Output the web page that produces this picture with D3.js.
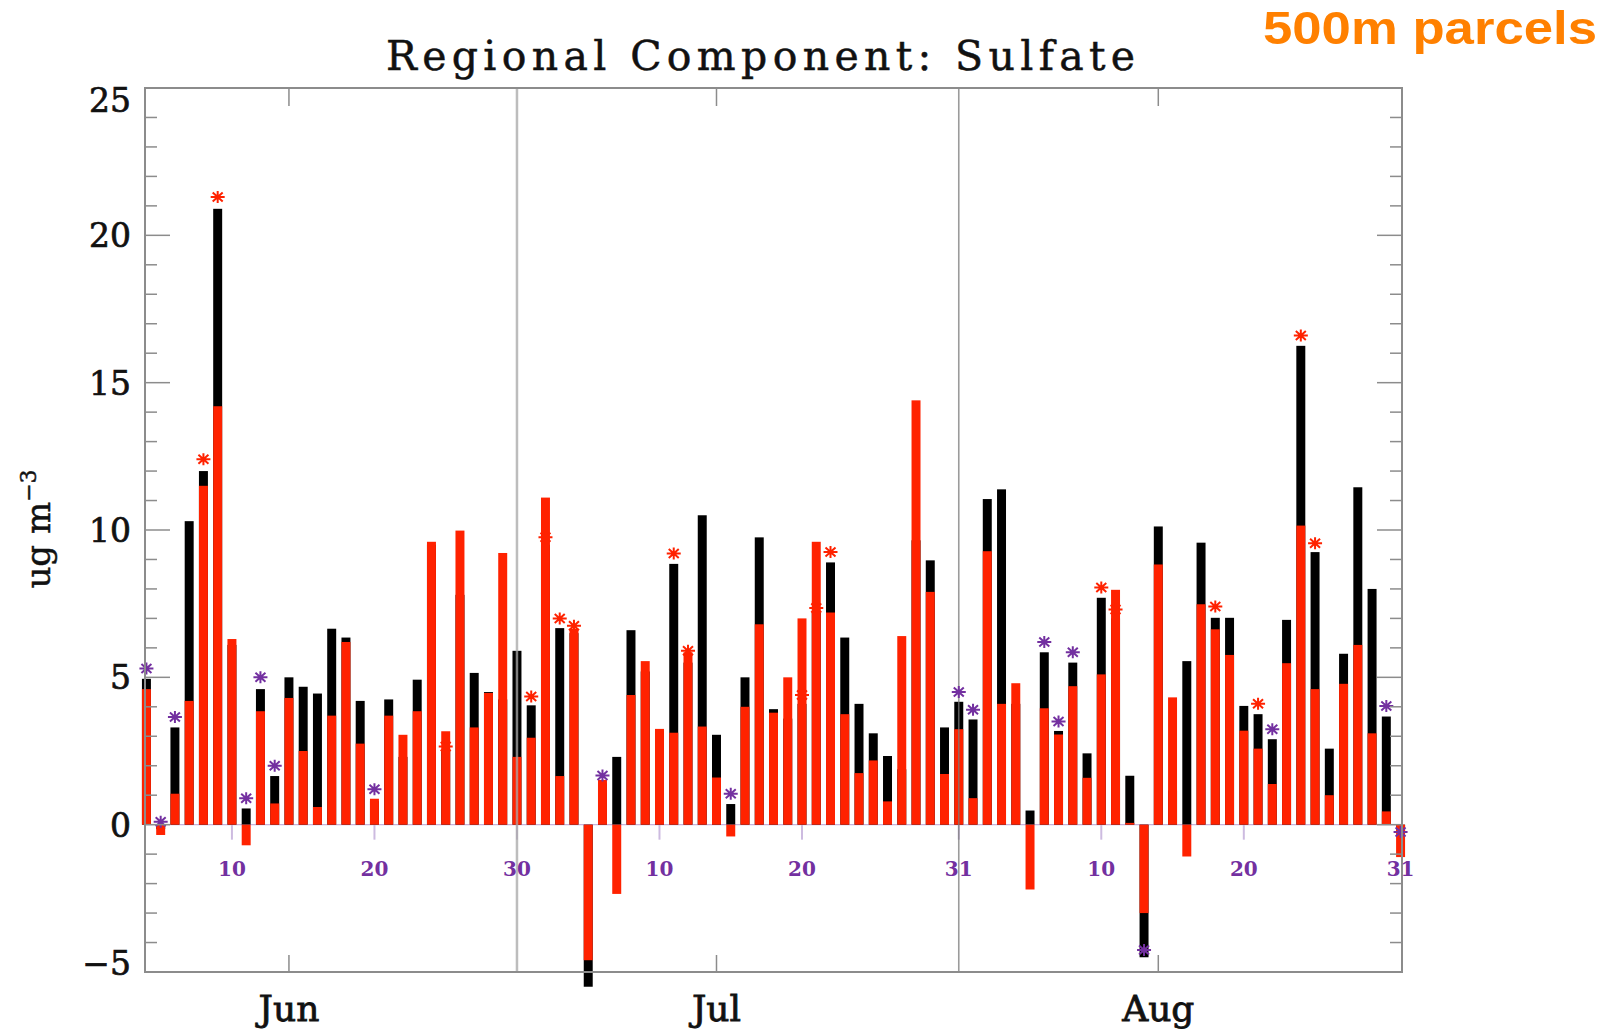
<!DOCTYPE html>
<html>
<head>
<meta charset="utf-8">
<script src="https://cdn.jsdelivr.net/npm/d3@7"></script>
<style>
  body { margin: 0; background: #fff; }
  svg { display: block; }
</style>
</head>
<body>
<script>
/***********************************************************************************/
// Data (day index: Jun 1 = 1, Jul 1 = 31, Aug 1 = 62)

var days = d3.range(4, 93);

var blackVals = [
  4.95, -0.15, 3.3, 10.3, 12.0, 20.9, 6.1, 0.55, 4.6, 1.65,
  5.0, 4.68, 4.45, 6.65, 6.35, 4.2, 0.8, 4.25, 2.3, 4.92,
  9.5, 2.5, 7.8, 5.15, 4.5, 4.25, 5.9, 4.05, 9.5, 6.67,
  6.5, -5.5, 1.4, 2.3, 6.6, 5.2, 3.2, 8.85, 5.5, 10.5,
  3.05, 0.7, 5.0, 9.75, 3.92, 3.6, 4.1, 7.2, 8.9, 6.35,
  4.1, 3.1, 2.33, 1.88, 9.65, 8.97, 3.3, 4.17, 3.57, 11.05,
  11.38, 4.1, 0.48, 5.85, 3.18, 5.5, 2.42, 7.7, 7.0, 1.66,
  -4.5, 10.12, 1.16, 5.55, 9.57, 7.02, 7.02, 4.03, 3.75, 2.9,
  6.95, 16.25, 9.25, 2.58, 5.8, 11.45, 8.0, 3.67, -0.2
];

var redVals = [
  4.6, -0.35, 1.05, 4.2, 11.5, 14.2, 6.3, -0.7, 3.85, 0.72,
  4.3, 2.5, 0.6, 3.7, 6.2, 2.75, 0.88, 3.7, 3.05, 3.85,
  9.6, 3.17, 9.98, 3.3, 4.47, 9.22, 2.3, 2.95, 11.1, 1.65,
  6.65, -4.6, 1.52, -2.35, 4.4, 5.55, 3.25, 3.12, 5.85, 3.33,
  1.6, -0.4, 4.0, 6.8, 3.8, 5.0, 7.0, 9.6, 7.2, 3.75,
  1.75, 2.18, 0.79, 6.4, 14.4, 7.9, 1.72, 3.24, 0.9, 9.28,
  4.1, 4.8, -2.2, 3.95, 3.06, 4.7, 1.59, 5.1, 7.97, 0.06,
  -3.0, 8.83, 4.32, -1.08, 7.48, 6.63, 5.76, 3.19, 2.58, 1.38,
  5.48, 10.15, 4.6, 1.0, 4.78, 6.1, 3.1, 0.45, -1.1
];

// asterisk markers: value and colour ('p' purple, 'r' red)
var starDays  = [4, 5, 6, 8, 9, 11, 12, 13, 20, 25, 31, 32, 33, 34, 36, 41, 42, 45, 50, 51,
                 52, 61, 62, 67, 68, 69, 71, 72, 74, 79, 82, 83, 85, 86, 91, 92];
var starVals  = [5.3, 0.1, 3.65, 12.4, 21.3, 0.9, 5.0, 2.0, 1.2, 2.65, 4.35, 9.75, 7.0, 6.75, 1.67, 9.2, 5.9, 1.05, 4.4, 7.35,
                 9.25, 4.5, 3.9, 6.2, 3.5, 5.85, 8.05, 7.3, -4.25, 7.4, 4.1, 3.24, 16.6, 9.55, 4.03, -0.25];
var starKinds = ['p','p','p','r','r','p','p','p','p','r','r','r','r','r','p','r','r','p','r','r',
                 'r','p','p','p','p','p','r','r','p','r','r','p','r','r','p','p'];

var yTicks = [-5, 0, 5, 10, 15, 20, 25];
var yTickLabels = ['\u22125', '0', '5', '10', '15', '20', '25'];
var dayTicks = [10, 20, 30, 40, 50, 61, 71, 81, 92];
var dayLabels = ['10', '20', '30', '10', '20', '31', '10', '20', '31'];
var monthTicks = [14, 44, 75];
var monthLabels = ['Jun', 'Jul', 'Aug'];
var monthLines = [30, 61];

/***********************************************************************************/
// Setup

var W = 1610, H = 1031;
var RED = '#ff2200', PURPLE = '#7330a0', FRAME = '#8c8c8c';

var svg = d3.select('body').append('svg').attr('width', W).attr('height', H);

var x = d3.scaleLinear().domain([3.9, 92.1]).range([145, 1402]);
var y = d3.scaleLinear().domain([-5, 25]).range([972, 88]);
var halfBar = 0.315;

/***********************************************************************************/
// Zero line and small day ticks

svg.append('line')
  .attr('x1', x.range()[0]).attr('x2', x.range()[1])
  .attr('y1', y(0)).attr('y2', y(0))
  .attr('stroke', '#c7b3dc').attr('stroke-width', 1.2);

svg.selectAll('.dtick').data(dayTicks).enter().append('line')
  .attr('x1', d => x(d)).attr('x2', d => x(d))
  .attr('y1', y(0)).attr('y2', y(0) + 15)
  .attr('stroke', '#cdbbe0').attr('stroke-width', 2);

/***********************************************************************************/
// Bars

function barRect(sel, vals, colour){
  sel.selectAll(null).data(days).enter().append('rect')
    .attr('x', (d) => x(d - halfBar))
    .attr('width', (d) => x(d + halfBar) - x(d - halfBar))
    .attr('y', (d, i) => Math.min(y(vals[i]), y(0)))
    .attr('height', (d, i) => Math.abs(y(vals[i]) - y(0)))
    .attr('fill', colour);
}
barRect(svg.append('g'), blackVals, '#000');
barRect(svg.append('g'), redVals, RED);

/***********************************************************************************/
// Month boundary lines (drawn over bars)

svg.selectAll('.mline').data(monthLines).enter().append('line')
  .attr('x1', d => x(d)).attr('x2', d => x(d))
  .attr('y1', y(25)).attr('y2', y(-5))
  .attr('stroke', (d, i) => i == 0 ? '#a8a8a8' : '#7a7a7a')
  .attr('stroke-width', (d, i) => i == 0 ? 2.5 : 1.6)
  .attr('opacity', 0.75);

/***********************************************************************************/
// Asterisks

var starPath = 'M-7,0H7M0,-6V6M-5,-4.5L5,4.5M-5,4.5L5,-4.5';
svg.selectAll('.star').data(starDays).enter().append('path')
  .attr('d', starPath)
  .attr('transform', (d, i) => `translate(${x(d)},${y(starVals[i])})`)
  .attr('stroke', (d, i) => starKinds[i] == 'r' ? RED : PURPLE)
  .attr('stroke-width', 2)
  .attr('fill', 'none');

/***********************************************************************************/
// Frame and ticks

svg.append('rect')
  .attr('x', x.range()[0]).attr('y', y(25))
  .attr('width', x.range()[1] - x.range()[0]).attr('height', y(-5) - y(25))
  .attr('fill', 'none').attr('stroke', FRAME).attr('stroke-width', 2);

var minor = d3.range(-5, 26);
[[x.range()[0], 1], [x.range()[1], -1]].forEach(function(side){
  svg.selectAll(null).data(minor).enter().append('line')
    .attr('x1', side[0]).attr('y1', d => y(d)).attr('y2', d => y(d))
    .attr('x2', d => side[0] + side[1] * (d % 5 == 0 ? 25 : 12))
    .attr('stroke', FRAME).attr('stroke-width', 1.5);
});

[[y(-5), -17], [y(25), 18]].forEach(function(side){
  svg.selectAll(null).data(monthTicks).enter().append('line')
    .attr('x1', d => x(d)).attr('x2', d => x(d))
    .attr('y1', side[0]).attr('y2', side[0] + side[1])
    .attr('stroke', FRAME).attr('stroke-width', 1.5);
});

/***********************************************************************************/
// Labels

svg.selectAll('.ylab').data(yTicks).enter().append('text')
  .attr('x', 131)
  .attr('y', d => y(d) + (d == 25 ? 12 : d == -5 ? -9 : 0))
  .attr('dy', '0.36em')
  .attr('text-anchor', 'end')
  .style('font-family', 'DejaVu Serif').style('font-size', '33px')
  .attr('fill', '#111').attr('stroke', '#111').attr('stroke-width', 0.7)
  .text((d, i) => yTickLabels[i]);

svg.selectAll('.dlab').data(dayTicks).enter().append('text')
  .attr('x', d => x(d)).attr('y', 876)
  .attr('text-anchor', 'middle')
  .style('font-family', 'DejaVu Serif').style('font-size', '20px').style('font-weight', 'bold')
  .attr('fill', PURPLE)
  .text((d, i) => dayLabels[i]);

svg.selectAll('.mlab').data(monthTicks).enter().append('text')
  .attr('x', d => x(d)).attr('y', 1021)
  .attr('text-anchor', 'middle')
  .style('font-family', 'DejaVu Serif').style('font-size', '36px')
  .attr('fill', '#111').attr('stroke', '#111').attr('stroke-width', 0.8)
  .text((d, i) => monthLabels[i]);

svg.append('text')
  .attr('x', 386).attr('y', 70)
  .attr('textLength', 749).attr('lengthAdjust', 'spacing')
  .style('font-family', 'DejaVu Serif').style('font-size', '41px')
  .attr('fill', '#111').attr('stroke', '#111').attr('stroke-width', 0.5)
  .text('Regional Component: Sulfate');

var yTitle = svg.append('text')
  .attr('transform', 'translate(50,529) rotate(-90)')
  .attr('text-anchor', 'middle')
  .style('font-family', 'DejaVu Serif').style('font-size', '34px')
  .attr('fill', '#111').attr('stroke', '#111').attr('stroke-width', 0.5);
yTitle.append('tspan').text('ug m');
yTitle.append('tspan').attr('dy', -14).style('font-size', '22px').text('\u22123');

svg.append('text')
  .attr('x', 1263).attr('y', 44)
  .attr('textLength', 334).attr('lengthAdjust', 'spacingAndGlyphs')
  .style('font-family', 'Liberation Sans').style('font-size', '47px').style('font-weight', 'bold')
  .attr('fill', '#ff8000')
  .text('500m parcels');
</script>
</body>
</html>
